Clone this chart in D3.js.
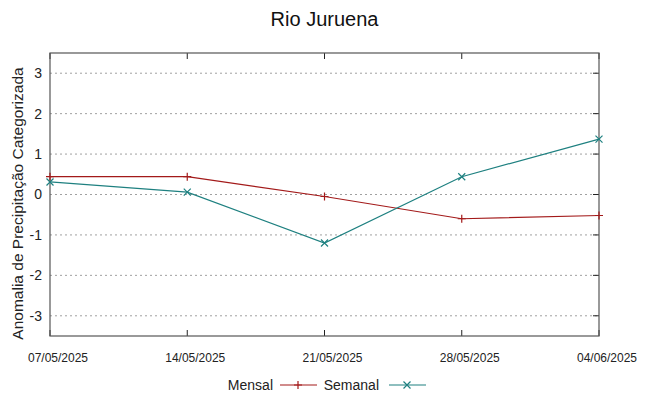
<!DOCTYPE html>
<html>
<head>
<meta charset="utf-8">
<script src="https://cdn.jsdelivr.net/npm/d3@7"></script>
<style>
  body { margin: 0; background: #fff; }
  text { font-family: "Liberation Sans", Arial, sans-serif; }
</style>
</head>
<body>
<div id="chart"></div>
<script>
var dates = ["07/05/2025", "14/05/2025", "21/05/2025", "28/05/2025", "04/06/2025"];
var mensal = [0.44, 0.44, -0.05, -0.60, -0.52];
var semanal = [0.31, 0.06, -1.20, 0.44, 1.37];
var yTicks = [-3, -2, -1, 0, 1, 2, 3];

var margin = { top: 53, left: 50, right: 49, bottom: 60 },
  width = 648 - margin.left - margin.right,
  height = 396 - margin.top - margin.bottom;

var svg = d3.select("#chart")
  .append("svg")
  .attr("width", 648)
  .attr("height", 396)
  .append("g")
  .attr("transform", "translate(" + margin.left + "," + margin.top + ")");

var xPositionScale = d3.scalePoint().domain(dates).range([0, width]);
var yPositionScale = d3.scaleLinear().domain([-3.5, 3.5]).range([height, 0]);

// grid
svg.selectAll(".grid")
  .data(yTicks)
  .enter().append("line")
  .attr("class", "grid")
  .attr("x1", 0)
  .attr("x2", width)
  .attr("y1", function(d) { return yPositionScale(d); })
  .attr("y2", function(d) { return yPositionScale(d); })
  .attr("stroke", "#a0a0a0")
  .attr("stroke-width", 1)
  .attr("stroke-dasharray", "2,3");

// y tick labels
svg.selectAll(".ylabel")
  .data(yTicks)
  .enter().append("text")
  .attr("class", "ylabel")
  .attr("x", -8)
  .attr("y", function(d) { return yPositionScale(d); })
  .attr("dy", "0.35em")
  .attr("text-anchor", "end")
  .attr("font-size", 14)
  .attr("fill", "#222")
  .text(function(d) { return d; });

// right side ticks (mirror)
svg.selectAll(".ytick")
  .data(yTicks)
  .enter().append("line")
  .attr("x1", width - 6)
  .attr("x2", width)
  .attr("y1", function(d) { return yPositionScale(d); })
  .attr("y2", function(d) { return yPositionScale(d); })
  .attr("stroke", "#222");

// x ticks top and bottom
svg.selectAll(".xtickb")
  .data(dates)
  .enter().append("line")
  .attr("x1", function(d) { return xPositionScale(d); })
  .attr("x2", function(d) { return xPositionScale(d); })
  .attr("y1", height)
  .attr("y2", height - 6)
  .attr("stroke", "#222");

svg.selectAll(".xtickt")
  .data(dates)
  .enter().append("line")
  .attr("x1", function(d) { return xPositionScale(d); })
  .attr("x2", function(d) { return xPositionScale(d); })
  .attr("y1", 0)
  .attr("y2", 6)
  .attr("stroke", "#222");

// labels sit a little right of their tick, like the original
svg.selectAll(".xlabel")
  .data(dates)
  .enter().append("text")
  .attr("class", "xlabel")
  .attr("x", function(d) { return xPositionScale(d) + 8; })
  .attr("y", height + 26)
  .attr("text-anchor", "middle")
  .attr("font-size", 12)
  .attr("fill", "#222")
  .text(function(d) { return d; });

// border
svg.append("rect")
  .attr("width", width)
  .attr("height", height)
  .attr("fill", "none")
  .attr("stroke", "#555")
  .attr("stroke-width", 1.2);

var line = d3.line()
  .x(function(d, i) { return xPositionScale(dates[i]); })
  .y(function(d) { return yPositionScale(d); });

var mensalColor = "#a31a1a",
  semanalColor = "#1e8080";

svg.append("path")
  .datum(mensal)
  .attr("d", line)
  .attr("fill", "none")
  .attr("stroke", mensalColor)
  .attr("stroke-width", 1.2);

svg.append("path")
  .datum(semanal)
  .attr("d", line)
  .attr("fill", "none")
  .attr("stroke", semanalColor)
  .attr("stroke-width", 1.2);

function plus(g, x, y, color) {
  g.append("path")
    .attr("d", "M" + (x - 4) + "," + y + "H" + (x + 4) + "M" + x + "," + (y - 4) + "V" + (y + 4))
    .attr("stroke", color)
    .attr("stroke-width", 1.2);
}
function cross(g, x, y, color) {
  g.append("path")
    .attr("d", "M" + (x - 3.5) + "," + (y - 3.5) + "L" + (x + 3.5) + "," + (y + 3.5) +
      "M" + (x - 3.5) + "," + (y + 3.5) + "L" + (x + 3.5) + "," + (y - 3.5))
    .attr("stroke", color)
    .attr("stroke-width", 1.2);
}

mensal.forEach(function(d, i) {
  plus(svg, xPositionScale(dates[i]), yPositionScale(d), mensalColor);
});
semanal.forEach(function(d, i) {
  cross(svg, xPositionScale(dates[i]), yPositionScale(d), semanalColor);
});

// title
svg.append("text")
  .attr("x", width / 2)
  .attr("y", -27)
  .attr("text-anchor", "middle")
  .attr("font-size", 20)
  .attr("fill", "#111")
  .text("Rio Juruena");

// y axis title
svg.append("text")
  .attr("transform", "translate(-27," + (height / 2 + 9) + ") rotate(-90)")
  .attr("text-anchor", "middle")
  .attr("font-size", 15.5)
  .attr("fill", "#222")
  .text("Anomalia de Precipitação Categorizada");

// legend
var legend = svg.append("g")
  .attr("transform", "translate(0," + (height + 49) + ")");

legend.append("text")
  .attr("x", 223)
  .attr("y", 0)
  .attr("dy", "0.35em")
  .attr("text-anchor", "end")
  .attr("font-size", 14)
  .attr("fill", "#222")
  .text("Mensal");
legend.append("line")
  .attr("x1", 230).attr("x2", 267)
  .attr("stroke", mensalColor).attr("stroke-width", 1.2);
plus(legend, 248, 0, mensalColor);

legend.append("text")
  .attr("x", 329)
  .attr("y", 0)
  .attr("dy", "0.35em")
  .attr("text-anchor", "end")
  .attr("font-size", 14)
  .attr("fill", "#222")
  .text("Semanal");
legend.append("line")
  .attr("x1", 339).attr("x2", 376)
  .attr("stroke", semanalColor).attr("stroke-width", 1.2);
cross(legend, 357, 0, semanalColor);
</script>
</body>
</html>
